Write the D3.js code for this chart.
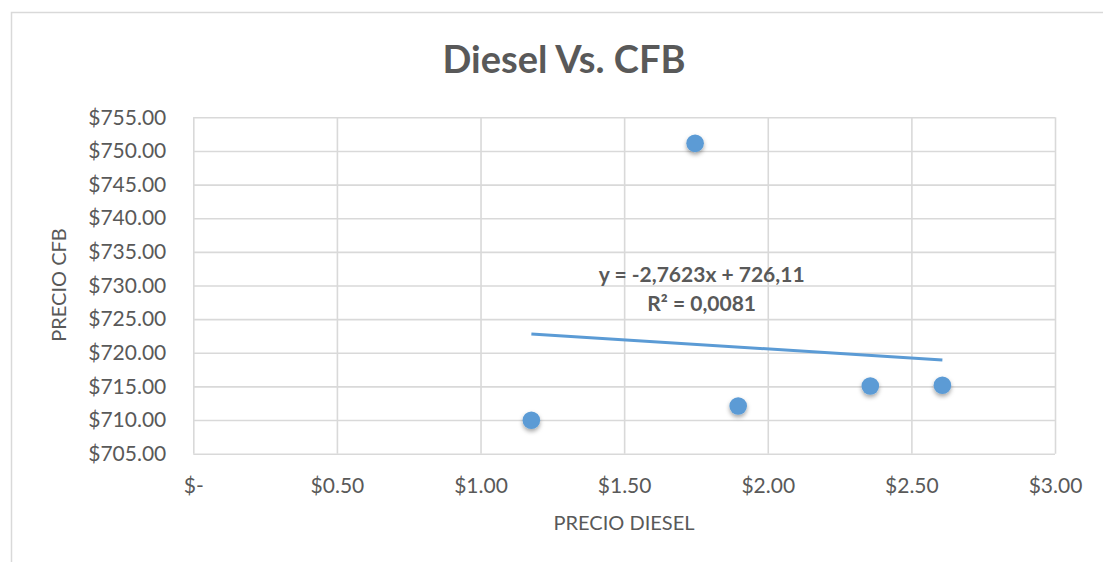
<!DOCTYPE html>
<meta charset="utf-8">
<style>
body { margin: 0; background: #fff; font-family: Lato, "Noto Sans", sans-serif; }
.grid line { stroke: #d9d9d9; stroke-width: 1.6; }
.grid path { display: none; }
.grid .tick text { fill: #595959; font-size: 21px; font-family: Lato, "Noto Sans", sans-serif; }
</style>
<body>
<script src="https://d3js.org/d3.v7.min.js"></script>
<script>
// precio diesel vs precio CFB
var dieselPrices = [1.177, 1.747, 1.897, 2.357, 2.608];
var cfbPrices = [709.98, 751.13, 712.08, 715.06, 715.17];
var xTicks = [0, 0.5, 1, 1.5, 2, 2.5, 3];
var yTicks = [705, 710, 715, 720, 725, 730, 735, 740, 745, 750, 755];
var eqLabel = "y = -2,7623x + 726,11";
var r2Label = "R² = 0,0081";

var W = 1103, H = 562;
var margin = {top: 117.3, right: 48, bottom: 108.3, left: 193.3},
    width = W - margin.left - margin.right,
    height = H - margin.top - margin.bottom;

var svg = d3.select("body").append("svg")
    .attr("width", W)
    .attr("height", H);

// drop shadow for markers
var f = svg.append("defs").append("filter").attr("id", "shadow")
    .attr("x", "-50%").attr("y", "-50%").attr("width", "200%").attr("height", "200%");
f.append("feDropShadow").attr("dx", 0).attr("dy", 2.5).attr("stdDeviation", 2)
    .attr("flood-color", "#000").attr("flood-opacity", 0.35);

// chart border
svg.append("rect")
    .attr("x", 11.5).attr("y", 12.5)
    .attr("width", W).attr("height", H)
    .attr("fill", "none").attr("stroke", "#d9d9d9").attr("stroke-width", 1.5);

var g = svg.append("g")
    .attr("transform", "translate(" + margin.left + "," + margin.top + ")");

var x = d3.scaleLinear().domain([0, 3]).range([0, width]);
var y = d3.scaleLinear().domain([705, 755]).range([height, 0]);

var xAxis = d3.axisBottom(x)
    .tickValues(xTicks)
    .tickSize(-height)
    .tickPadding(24)
    .tickFormat(function(d) { return d == 0 ? "$-" : "$" + d.toFixed(2); });

var yAxis = d3.axisLeft(y)
    .tickValues(yTicks)
    .tickSize(-width)
    .tickPadding(27)
    .tickFormat(function(d) { return "$" + d.toFixed(2); });

g.append("g")
    .attr("class", "grid")
    .attr("transform", "translate(0," + height + ")")
    .call(xAxis);

g.append("g")
    .attr("class", "grid")
    .call(yAxis);

// linear trendline (least squares)
var n = dieselPrices.length,
    mx = d3.mean(dieselPrices),
    my = d3.mean(cfbPrices);
var sxy = 0, sxx = 0;
for (var i = 0; i < n; i++) {
  sxy += (dieselPrices[i] - mx) * (cfbPrices[i] - my);
  sxx += (dieselPrices[i] - mx) * (dieselPrices[i] - mx);
}
var slope = sxy / sxx, intercept = my - slope * mx;
var x0 = d3.min(dieselPrices), x1 = d3.max(dieselPrices);

g.append("line")
    .attr("x1", x(x0)).attr("y1", y(intercept + slope * x0))
    .attr("x2", x(x1)).attr("y2", y(intercept + slope * x1))
    .attr("stroke", "#5b9bd5")
    .attr("stroke-width", 3);

var pts = dieselPrices.map(function(d, i) { return {x: d, y: cfbPrices[i]}; });

g.selectAll(".dot")
    .data(pts)
  .enter().append("circle")
    .attr("class", "dot")
    .attr("cx", function(d) { return x(d.x); })
    .attr("cy", function(d) { return y(d.y); })
    .attr("r", 8.8)
    .attr("fill", "#5b9bd5")
    .attr("filter", "url(#shadow)");

// trendline label
g.append("text")
    .attr("x", 508.4).attr("y", 164.4)
    .attr("text-anchor", "middle")
    .style("font-size", "21px").style("font-weight", "bold").style("fill", "#595959")
    .text(eqLabel);
g.append("text")
    .attr("x", 508.4).attr("y", 193.4)
    .attr("text-anchor", "middle")
    .style("font-size", "21px").style("font-weight", "bold").style("fill", "#595959")
    .text(r2Label);

// titles
svg.append("text")
    .attr("x", 564).attr("y", 73)
    .attr("text-anchor", "middle")
    .style("font-size", "38px").style("font-weight", "bold").style("fill", "#595959")
    .text("Diesel Vs. CFB");

svg.append("text")
    .attr("x", 624).attr("y", 530)
    .attr("text-anchor", "middle")
    .style("font-size", "20px").style("fill", "#595959")
    .text("PRECIO DIESEL");

svg.append("text")
    .attr("transform", "translate(66," + 285 + ") rotate(-90)")
    .attr("text-anchor", "middle")
    .style("font-size", "20px").style("fill", "#595959")
    .text("PRECIO CFB");
</script>
</body>
